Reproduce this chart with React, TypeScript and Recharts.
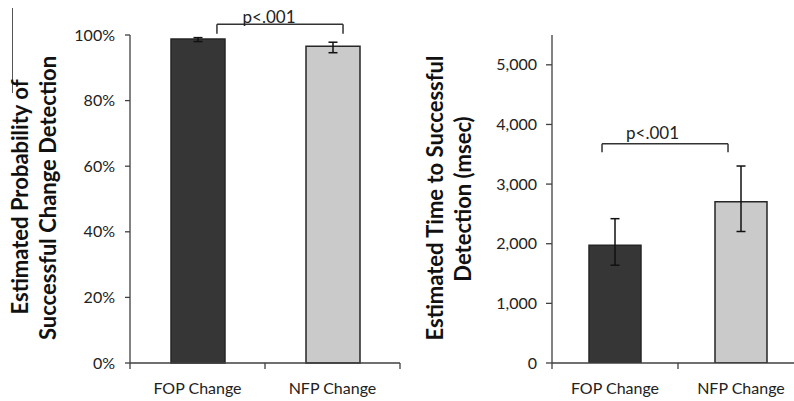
import React from 'react';
import { BarChart, Bar, XAxis, YAxis, ErrorBar, ReferenceLine, ReferenceDot, Cell } from 'recharts';

// ---- data ----
const categories = ['FOP Change', 'NFP Change'];
const categoryPos = [0.5, 1.5];
const probValues = [98.8, 96.6];
const probErrors = [[0.8, 0.4], [2.0, 1.2]];
const timeValues = [1975, 2705];
const timeErrors = [[335, 445], [500, 598]];
const probTicks = [0, 20, 40, 60, 80, 100];
const timeTicks = [0, 1000, 2000, 3000, 4000, 5000];
const xTicks = [0, 0.5, 1, 1.5, 2];
const barColors = ['#363636', '#cacaca'];
const sigLabel = 'p<.001';

// annotation anchors (data units: x on 0..2 axis, y on value axis)
const probBracket = { x1: 0.644, x2: 1.578, y: 103.3, yEnd: 100.4, tx: 1.03, ty: 105.6 };
const timeBracket = { x1: 0.397, x2: 1.397, y: 3675, yEnd: 3534, tx: 0.798, ty: 3850 };

const probData = categories.map((name, i) => ({ name, pos: categoryPos[i], value: probValues[i], err: probErrors[i] }));
const timeData = categories.map((name, i) => ({ name, pos: categoryPos[i], value: timeValues[i], err: timeErrors[i] }));

const AX = '#404040';
const FONT = 'Lato, "Open Sans", sans-serif';
const tickStyle = { fill: '#222', fontSize: 16, fontFamily: FONT };
const X_TICK_SIZE = 8;
const X_TICK_MARGIN = 12;

function labelFor(v: number) {
  const i = categoryPos.indexOf(v);
  return i >= 0 ? categories[i] : '';
}

function XTick(props: any) {
  const { x, y, payload } = props;
  const v = payload.value as number;
  const axisY = y - X_TICK_SIZE - X_TICK_MARGIN;
  if (Number.isInteger(v)) {
    return <line x1={x} x2={x} y1={axisY} y2={axisY + 6} stroke={AX} strokeWidth={1.3} />;
  }
  return (
    <text x={x} y={y} dy="0.71em" textAnchor="middle" fill="#222" fontSize={16} fontFamily={FONT}>
      {labelFor(v)}
    </text>
  );
}

function renderBracket(b: { x1: number; x2: number; y: number; yEnd: number; tx: number; ty: number }) {
  const common = { stroke: '#333', strokeWidth: 1.5, ifOverflow: 'visible' as const };
  return [
    <ReferenceLine key="h" {...common} segment={[{ x: b.x1, y: b.y }, { x: b.x2, y: b.y }]} />,
    <ReferenceLine key="l" {...common} segment={[{ x: b.x1, y: b.y }, { x: b.x1, y: b.yEnd }]} />,
    <ReferenceLine key="r" {...common} segment={[{ x: b.x2, y: b.y }, { x: b.x2, y: b.yEnd }]} />,
    <ReferenceDot
      key="t"
      x={b.tx}
      y={b.ty}
      r={1}
      fill="none"
      stroke="none"
      ifOverflow="visible"
      label={{ value: sigLabel, position: 'center', fill: '#222', fontSize: 17, fontFamily: FONT }}
    />,
  ];
}

function XAx() {
  return null;
}

export default function App() {
  const xAxisProps = {
    dataKey: 'pos',
    type: 'number' as const,
    domain: [0, 2],
    allowDataOverflow: true,
    ticks: xTicks,
    interval: 0 as const,
    axisLine: { stroke: AX, strokeWidth: 1.3 },
    tickLine: false,
    tickSize: X_TICK_SIZE,
    tickMargin: X_TICK_MARGIN,
    height: 38,
    tick: <XTick />,
  };
  return (
    <div style={{ position: 'absolute', left: 0, top: 0, width: 794, height: 401, overflow: 'hidden', background: '#fff' }}>
      <div style={{ position: 'absolute', left: 12, top: 8, width: 1, height: 85, background: '#555' }} />
      <div style={{ position: 'absolute', left: 0, top: 0 }}>
        <BarChart width={410} height={401} data={probData} margin={{ top: 35, right: 10, bottom: 0, left: 0 }}>
          <XAxis {...(xAxisProps as any)} />
          <YAxis
            domain={[0, 100]}
            ticks={probTicks}
            tickFormatter={(v: number) => `${v}%`}
            width={130}
            axisLine={{ stroke: AX, strokeWidth: 1.3 }}
            tickLine={{ stroke: AX, strokeWidth: 1.3 }}
            tickSize={5}
            tickMargin={10}
            tick={tickStyle}
          />
          <Bar dataKey="value" barSize={54} stroke="#262626" strokeWidth={1.5} isAnimationActive={false}>
            {probData.map((d, i) => (
              <Cell key={d.name} fill={barColors[i]} />
            ))}
            <ErrorBar dataKey="err" width={4.5} stroke="#111" strokeWidth={1.5} isAnimationActive={false} />
          </Bar>
          {renderBracket(probBracket)}
        </BarChart>
      </div>
      <div style={{ position: 'absolute', left: 400, top: 0 }}>
        <BarChart width={420} height={401} data={timeData} margin={{ top: 35, right: 16, bottom: 0, left: 0 }}>
          <XAxis {...(xAxisProps as any)} />
          <YAxis
            domain={[0, 5500]}
            ticks={timeTicks}
            tickFormatter={(v: number) => v.toLocaleString('en-US')}
            width={152}
            axisLine={{ stroke: AX, strokeWidth: 1.3 }}
            tickLine={{ stroke: AX, strokeWidth: 1.3 }}
            tickSize={6}
            tickMargin={9}
            tick={tickStyle}
            allowDataOverflow
          />
          <Bar dataKey="value" barSize={52} stroke="#262626" strokeWidth={1.5} isAnimationActive={false}>
            {timeData.map((d, i) => (
              <Cell key={d.name} fill={barColors[i]} />
            ))}
            <ErrorBar dataKey="err" width={4.5} stroke="#111" strokeWidth={1.5} isAnimationActive={false} />
          </Bar>
          {renderBracket(timeBracket)}
        </BarChart>
      </div>
      <svg width={794} height={401} style={{ position: 'absolute', left: 0, top: 0, pointerEvents: 'none' }}>
        <g fontFamily={FONT} fontWeight={700} fontSize={22} fill="#111" textAnchor="middle">
          <text transform="translate(28,197) rotate(-90)">Estimated Probability of</text>
          <text transform="translate(56,198) rotate(-90)">Successful Change Detection</text>
          <text transform="translate(443,198) rotate(-90)">Estimated Time to Successful</text>
          <text transform="translate(471,199) rotate(-90)">Detection (msec)</text>
        </g>
      </svg>
    </div>
  );
}
